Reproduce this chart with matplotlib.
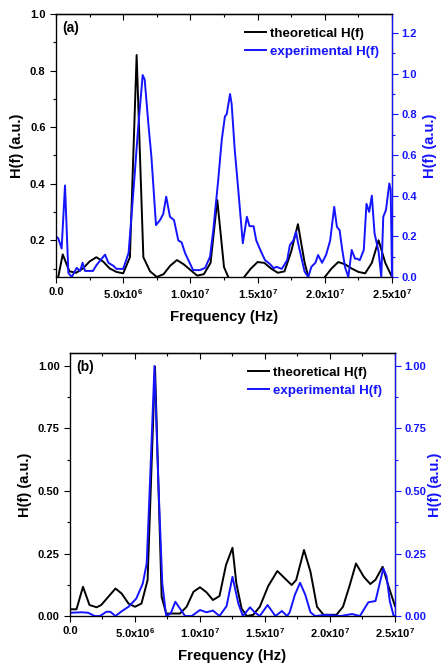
import numpy as np
import matplotlib
matplotlib.use('Agg')
import matplotlib.pyplot as plt
from matplotlib.ticker import MultipleLocator, FuncFormatter, NullFormatter

plt.rcParams['font.family'] = ['Liberation Sans', 'DejaVu Sans']
plt.rcParams['font.weight'] = 'bold'
plt.rcParams['mathtext.fontset'] = 'custom'
plt.rcParams['mathtext.bf'] = 'Liberation Sans:bold'
plt.rcParams['mathtext.rm'] = 'Liberation Sans:bold'
plt.rcParams['mathtext.default'] = 'bf'

BLUE = '#1414ff'

# ---- panel (a) data, frequency in MHz ----
fa_theo = [0.0, 0.5, 1.0, 1.5, 2.0, 2.5, 3.0, 3.5, 4.0, 4.5, 5.0, 5.5, 6.0, 6.5, 7.0,
           7.5, 8.0, 8.5, 9.0, 9.5, 10.0, 10.5, 11.0, 11.5, 12.0, 12.5, 13.0, 13.5,
           14.0, 14.5, 15.0, 15.5, 16.0, 16.5, 17.0, 17.5, 18.0, 18.5, 19.0, 19.5,
           20.0, 20.5, 21.0, 21.5, 22.0, 22.5, 23.0, 23.5, 24.0, 24.5, 25.0]
ha_theo = [0.03, 0.15, 0.09, 0.085, 0.10, 0.125, 0.14, 0.125, 0.10, 0.088, 0.083, 0.14,
           0.855, 0.14, 0.09, 0.07, 0.08, 0.11, 0.13, 0.115, 0.095, 0.075, 0.08, 0.12,
           0.342, 0.105, 0.05, 0.02, 0.07, 0.10, 0.123, 0.12, 0.10, 0.085, 0.09, 0.16,
           0.257, 0.12, 0.03, 0.02, 0.07, 0.10, 0.123, 0.115, 0.10, 0.088, 0.083, 0.12,
           0.20, 0.12, 0.07]

fa_exp = [0.0, 0.17, 0.42, 0.67, 0.92, 1.17, 1.54, 1.79, 1.98, 2.16, 2.5, 2.75, 3.03,
          3.4, 3.65, 3.9, 4.27, 4.5, 5.0, 5.4, 5.77, 6.12, 6.45, 6.6, 6.87, 7.1, 7.44,
          7.74, 7.98, 8.2, 8.48, 8.78, 9.1, 9.35, 9.6, 9.85, 10.2, 10.7, 11.1, 11.46,
          11.7, 12.07, 12.33, 12.57, 12.7, 12.95, 13.07, 13.3, 13.56, 13.9, 14.2, 14.4,
          14.7, 14.9, 15.2, 15.55, 15.9, 16.2, 16.4, 16.8, 17.2, 17.4, 17.66, 17.86,
          18.0, 18.3, 18.5, 18.77, 19.0, 19.3, 19.5, 19.8, 20.1, 20.4, 20.7, 20.9,
          21.1, 21.3, 21.5, 21.75, 22.0, 22.25, 22.4, 22.6, 22.9, 23.1, 23.3, 23.5,
          23.7, 24.0, 24.2, 24.35, 24.55, 24.8, 24.9, 25.0]
ha_exp = [0.20, 0.19, 0.14, 0.45, 0.02, 0.0, 0.045, 0.03, 0.07, 0.03, 0.03, 0.03, 0.06,
          0.09, 0.11, 0.07, 0.055, 0.04, 0.04, 0.118, 0.43, 0.74, 0.993, 0.97, 0.755,
          0.59, 0.255, 0.28, 0.31, 0.395, 0.296, 0.28, 0.18, 0.17, 0.118, 0.083, 0.034,
          0.034, 0.045, 0.10, 0.23, 0.477, 0.673, 0.79, 0.80, 0.90, 0.85, 0.624, 0.43,
          0.166, 0.296, 0.25, 0.25, 0.18, 0.133, 0.083, 0.065, 0.043, 0.05, 0.04, 0.083,
          0.157, 0.18, 0.223, 0.17, 0.083, 0.026, 0.0, 0.05, 0.07, 0.108, 0.07, 0.11,
          0.18, 0.345, 0.247, 0.23, 0.133, 0.05, 0.0, 0.133, 0.09, 0.09, 0.083, 0.133,
          0.36, 0.32, 0.40, 0.215, 0.125, 0.0, 0.296, 0.33, 0.46, 0.43, 0.0]

# ---- panel (b) data ----
fb_theo = [0.0, 0.5, 1.0, 1.5, 2.05, 2.4, 2.95, 3.5, 3.97, 4.5, 5.0, 5.5, 5.97, 6.54,
           7.05, 7.4, 8.46, 8.97, 9.5, 10.0, 10.5, 11.0, 11.5, 12.0, 12.5, 12.8, 13.2,
           13.6, 14.1, 14.6, 15.25, 15.95, 16.54, 17.05, 17.4, 18.0, 18.5, 19.0, 19.5,
           20.5, 21.0, 21.5, 22.0, 22.6, 23.1, 23.5, 24.05, 24.5, 25.0]
hb_theo = [0.027, 0.027, 0.117, 0.044, 0.035, 0.044, 0.077, 0.11, 0.09, 0.05, 0.037,
           0.05, 0.144, 0.997, 0.077, 0.01, 0.01, 0.037, 0.097, 0.115, 0.095, 0.064,
           0.08, 0.204, 0.273, 0.13, 0.03, 0.0, 0.005, 0.037, 0.12, 0.18, 0.15, 0.124,
           0.144, 0.264, 0.177, 0.037, 0.005, 0.005, 0.037, 0.12, 0.21, 0.157, 0.128,
           0.145, 0.197, 0.12, 0.04]

fb_exp = [0.0, 0.9, 1.4, 1.9, 2.3, 2.8, 3.1, 3.5, 4.0, 4.5, 5.1, 5.6, 5.9, 6.15, 6.5,
          6.8, 7.1, 7.4, 7.75, 8.1, 8.46, 8.85, 9.36, 10.0, 10.5, 11.0, 11.5, 12.05,
          12.5, 12.95, 13.3, 13.85, 14.2, 14.6, 15.2, 15.8, 16.3, 16.7, 16.9, 17.3,
          17.7, 18.1, 18.5, 18.85, 19.75, 20.8, 21.7, 22.3, 22.95, 23.5, 23.8, 24.1,
          24.35, 24.6, 24.9, 25.0]
hb_exp = [0.013, 0.015, 0.013, 0.0, 0.0, 0.017, 0.017, 0.0, 0.02, 0.037, 0.07, 0.13,
          0.21, 0.53, 1.0, 0.53, 0.13, 0.0, 0.01, 0.057, 0.03, 0.0, 0.0, 0.024, 0.015,
          0.022, 0.0, 0.04, 0.157, 0.05, 0.0, 0.035, 0.015, 0.0, 0.044, 0.0, 0.02, 0.0,
          0.015, 0.085, 0.133, 0.085, 0.015, 0.0, 0.005, 0.0, 0.008, 0.0, 0.055, 0.06,
          0.125, 0.19, 0.16, 0.06, 0.0, 0.0]


def freq_fmt(v, pos):
    if v < 1:
        return '0.0'
    e = int(np.floor(np.log10(v)))
    m = v / 10**e
    return r'%.1fx10$^{%d}$' % (m, e)


def style_axes(ax, ax2, label, ymaj, ymin, y2maj, y2min, rpad=4):
    ax.set_xlim(0, 2.5e7)
    ax.xaxis.set_major_locator(MultipleLocator(5e6))
    ax.xaxis.set_minor_locator(MultipleLocator(2.5e6))
    ax.xaxis.set_major_formatter(FuncFormatter(freq_fmt))
    ax.yaxis.set_major_locator(MultipleLocator(ymaj))
    ax.yaxis.set_minor_locator(MultipleLocator(ymin))
    ax2.yaxis.set_major_locator(MultipleLocator(y2maj))
    ax2.yaxis.set_minor_locator(MultipleLocator(y2min))
    ax.tick_params(axis='both', which='both', direction='out', labelsize=8, width=0.8)
    ax.tick_params(which='major', length=4)
    ax.tick_params(which='minor', length=2.5)
    ax2.tick_params(axis='y', which='both', direction='out', colors=BLUE, labelsize=8,
                    width=0.8, pad=3)
    ax2.tick_params(which='major', length=4)
    ax2.tick_params(which='minor', length=2.5)
    # inward ticks along the top edge
    top = ax.secondary_xaxis('top')
    top.xaxis.set_major_locator(MultipleLocator(5e6))
    top.xaxis.set_minor_locator(MultipleLocator(2.5e6))
    top.xaxis.set_major_formatter(NullFormatter())
    top.tick_params(which='both', direction='in', width=0.8)
    top.tick_params(which='major', length=4)
    top.tick_params(which='minor', length=2.5)
    top.spines['top'].set_linewidth(0.9)
    for lab in ax.get_xticklabels() + ax.get_yticklabels() + ax2.get_yticklabels():
        lab.set_fontweight('bold')
    for s in ax.spines.values():
        s.set_linewidth(0.9)
    ax2.spines['right'].set_color(BLUE)
    ax2.spines['right'].set_linewidth(0.9)
    ax.set_xlabel('Frequency (Hz)', fontsize=10.8, fontweight='bold', labelpad=6)
    ax.set_ylabel('H(f) (a.u.)', fontsize=10.5, fontweight='bold')
    ax2.set_ylabel('H(f) (a.u.)', fontsize=10.5, fontweight='bold', color=BLUE,
                   labelpad=rpad)
    ax.text(0.02, 0.975, label, transform=ax.transAxes, fontsize=10, fontweight='bold',
            va='top', ha='left')


def add_legend(ax2, handles):
    leg = ax2.legend(handles, ['theoretical H(f)', 'experimental H(f)'], loc='upper right',
                     frameon=False, handlelength=1.6, handletextpad=0.25,
                     labelspacing=0.45, borderaxespad=0.6,
                     prop={'weight': 'bold', 'size': 9.6})
    leg.get_texts()[1].set_color(BLUE)
    return leg


fig = plt.figure(figsize=(4.43, 6.68), dpi=100)

# (a) theoretical vs experimental transfer function
axa = fig.add_axes([0.1264, 0.5853, 0.7585, 0.3937])
axa2 = axa.twinx()
la1, = axa.plot(np.array(fa_theo) * 1e6, ha_theo, color='black', lw=1.4)
la2, = axa2.plot(np.array(fa_exp) * 1e6, ha_exp, color=BLUE, lw=1.4)
axa.set_ylim(0.07, 1.0)
axa2.set_ylim(0, 1.293)
style_axes(axa, axa2, '(a)', 0.2, 0.1, 0.2, 0.1)
add_legend(axa2, [la1, la2])

# (b)
axb = fig.add_axes([0.158, 0.0778, 0.7336, 0.3938])
axb2 = axb.twinx()
lb1, = axb.plot(np.array(fb_theo) * 1e6, hb_theo, color='black', lw=1.4)
lb2, = axb2.plot(np.array(fb_exp) * 1e6, hb_exp, color=BLUE, lw=1.4)
axb.set_ylim(0, 1.052)
axb2.set_ylim(0, 1.052)
axb.yaxis.set_major_formatter(FuncFormatter(lambda v, p: '%.2f' % v))
axb2.yaxis.set_major_formatter(FuncFormatter(lambda v, p: '%.2f' % v))
style_axes(axb, axb2, '(b)', 0.25, 0.125, 0.25, 0.125, rpad=1)
add_legend(axb2, [lb1, lb2])

fig.savefig('out.png', dpi=100)
